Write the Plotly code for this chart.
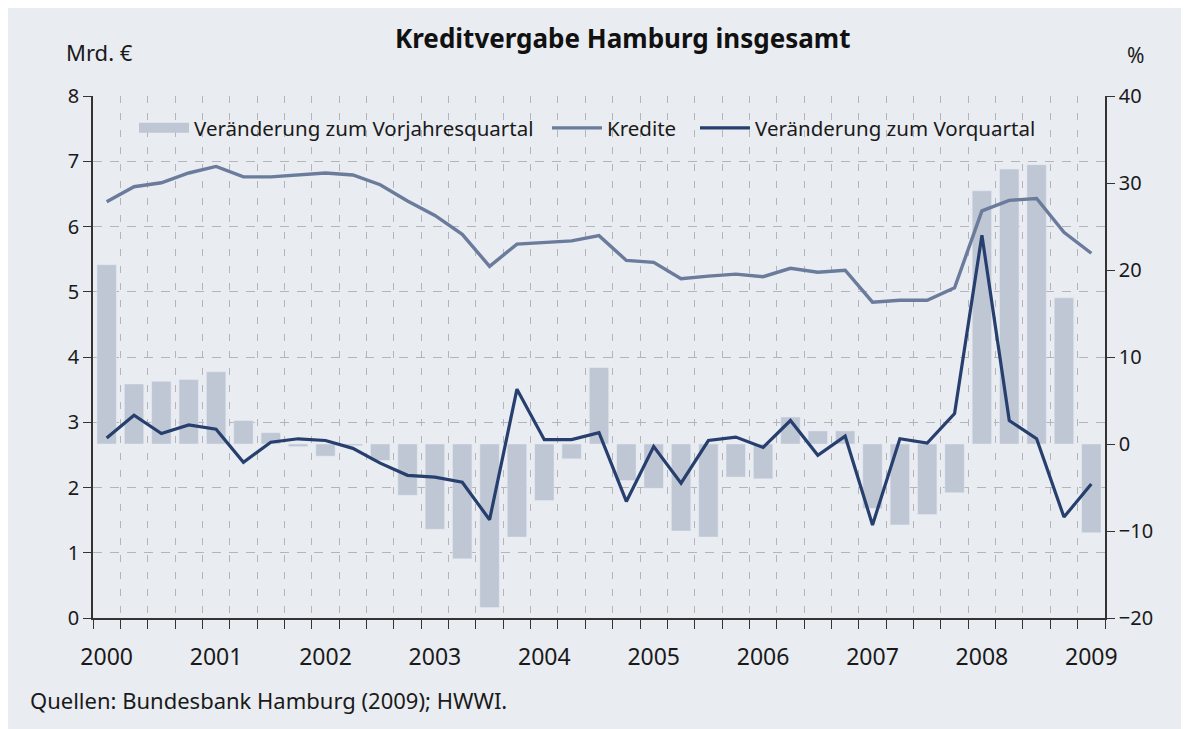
import plotly.graph_objects as go

# Quartale 2000Q1 .. 2009Q1
jahre = list(range(2000, 2010))
quartale = [f"{j}Q{q}" for j in jahre for q in range(1, 5)][:37]

# Kredite in Mrd. Euro (linke Achse)
kredite = [6.38, 6.61, 6.67, 6.82, 6.92, 6.76, 6.76, 6.79, 6.82, 6.79,
           6.64, 6.39, 6.17, 5.88, 5.39, 5.73, 5.76, 5.78, 5.86, 5.48,
           5.45, 5.20, 5.24, 5.27, 5.23, 5.36, 5.30, 5.33, 4.84, 4.87,
           4.87, 5.06, 6.24, 6.40, 6.43, 5.91, 5.59]

# Veränderung zum Vorjahresquartal in % (Balken, rechte Achse)
vorjahr = [20.6, 6.9, 7.2, 7.4, 8.3, 2.7, 1.3, -0.3, -1.4, -0.2,
           -1.9, -5.9, -9.8, -13.2, -18.8, -10.7, -6.5, -1.7, 8.8, -4.2,
           -5.1, -10.0, -10.7, -3.8, -4.0, 3.1, 1.5, 1.5, -7.4, -9.3,
           -8.1, -5.6, 29.1, 31.6, 32.1, 16.8, -10.2]

# Veränderung zum Vorquartal in % (rechte Achse)
vorquartal = [0.7, 3.3, 1.2, 2.2, 1.7, -2.1, 0.2, 0.6, 0.4, -0.5,
              -2.2, -3.6, -3.8, -4.4, -8.7, 6.3, 0.5, 0.5, 1.3, -6.6,
              -0.3, -4.5, 0.4, 0.8, -0.4, 2.7, -1.3, 0.9, -9.3, 0.6,
              0.1, 3.5, 24.0, 2.7, 0.6, -8.4, -4.6]

x = list(range(len(quartale)))
jahr_pos = [i for i, q in enumerate(quartale) if q.endswith("Q1")]
jahr_text = [q[:4] for q in quartale if q.endswith("Q1")]

BG = "#e9ecf1"
BAR = "#bfc6d4"
KRED = "#6a7b9b"
VQ = "#263f6e"
GRID = "#b3b5ba"
AX = "#333333"
FONT = "Noto Sans"

fig = go.Figure()

# y = Prozent (rechts), y2 = Mrd. € (links), y3 = Prozent (nur für die obere Linie)
fig.add_trace(go.Bar(
    x=x, y=vorjahr, yaxis="y", marker_color=BAR, width=0.71,
    name="Veränderung zum Vorjahresquartal", showlegend=False,
))
# Legendeneintrag als breiter Balken
fig.add_trace(go.Scatter(
    x=[None], y=[None], yaxis="y", mode="lines",
    line=dict(color=BAR, width=14),
    name="Veränderung zum Vorjahresquartal", legend="legend",
))
fig.add_trace(go.Scatter(
    x=x, y=kredite, yaxis="y2", mode="lines", line=dict(color=KRED, width=3.4),
    name="Kredite", legend="legend2",
))
fig.add_trace(go.Scatter(
    x=x, y=vorquartal, yaxis="y3", mode="lines", line=dict(color=VQ, width=3.2),
    name="Veränderung zum Vorquartal", legend="legend3",
))

leg = dict(orientation="h", xanchor="left", yanchor="top", y=0.977,
           bgcolor="rgba(0,0,0,0)", font=dict(size=20.5), itemwidth=50)

fig.update_layout(
    width=1189, height=729,
    margin=dict(l=85, r=92, t=88, b=119),
    paper_bgcolor=BG, plot_bgcolor=BG,
    font=dict(family=FONT, size=21, color="#1a1a1a"),
    legend=dict(leg, x=(132 - 91) / 1012),
    legend2=dict(leg, x=(545 - 91) / 1012),
    legend3=dict(leg, x=(693 - 91) / 1012),
    xaxis=dict(
        range=[-0.5, len(x) - 0.5],
        tickmode="array", tickvals=jahr_pos, ticktext=jahr_text,
        ticks="", showgrid=False, zeroline=False, ticklabelstandoff=18,
        showline=True, linecolor=AX, linewidth=1.5,
        minor=dict(tickmode="linear", tick0=-0.5, dtick=1,
                   ticks="outside", ticklen=9, tickcolor=AX, tickwidth=1.2,
                   showgrid=True, gridcolor=GRID, griddash="7px,10px", gridwidth=1),
        tickfont=dict(size=23),
    ),
    yaxis=dict(
        range=[-20, 40], dtick=10, side="right",
        ticks="outside", ticklen=8, tickcolor=AX,
        showline=True, linecolor=AX, linewidth=1.5,
        showgrid=False, zeroline=False, tickfont=dict(size=20),
    ),
    yaxis2=dict(
        range=[0, 8], dtick=1, side="left", overlaying="y",
        ticks="outside", ticklen=8, tickcolor=AX,
        showline=True, linecolor=AX, linewidth=1.5,
        showgrid=True, gridcolor=GRID, griddash="9px,8px", gridwidth=1,
        zeroline=False, tickfont=dict(size=20),
    ),
    yaxis3=dict(
        range=[-20, 40], overlaying="y", visible=False,
    ),
)

fig.add_annotation(text="<b>Kreditvergabe Hamburg insgesamt</b>", xref="paper", yref="paper",
                   x=(620 - 91) / 1012, y=1.111, xanchor="center", yanchor="middle",
                   showarrow=False, font=dict(size=26, color="#111111"))
fig.add_annotation(text="Mrd. €", xref="paper", yref="paper",
                   x=(62 - 91) / 1012, y=1.084, xanchor="left", yanchor="middle",
                   showarrow=False, font=dict(size=22))
fig.add_annotation(text="%", xref="paper", yref="paper",
                   x=(1123 - 91) / 1012, y=1.079, xanchor="left", yanchor="middle",
                   showarrow=False, font=dict(size=21))
fig.add_annotation(text="Quellen: Bundesbank Hamburg (2009); HWWI.", xref="paper", yref="paper",
                   x=(26 - 91) / 1012, y=-0.157, xanchor="left", yanchor="middle",
                   showarrow=False, font=dict(size=22))

fig.write_html("out.html")
